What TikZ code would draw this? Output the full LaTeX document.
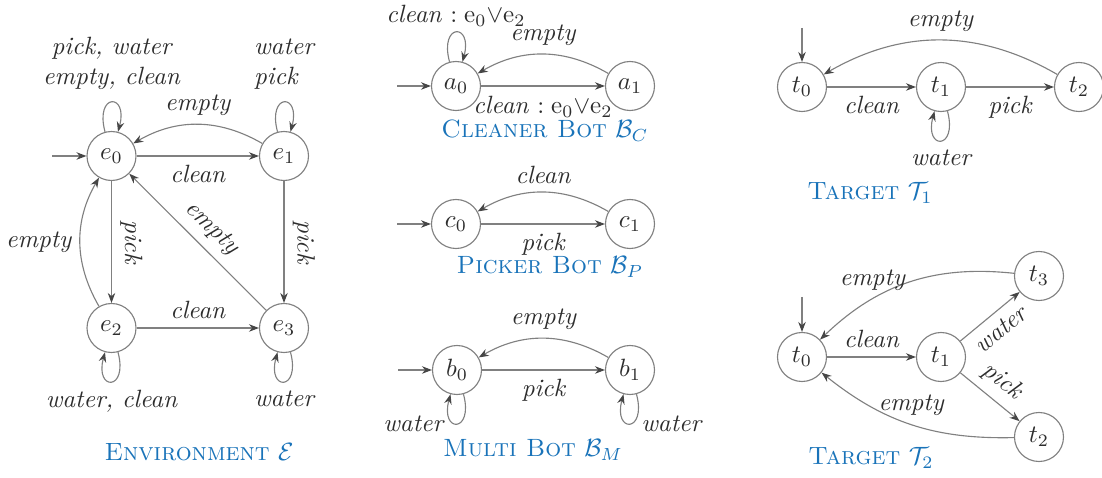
\documentclass[tikz,border=0pt]{standalone}
\usetikzlibrary{arrows.meta}
\definecolor{titleblue}{RGB}{25,115,185}
\definecolor{linegray}{RGB}{128,128,128}
\definecolor{textgray}{RGB}{45,45,45}
\definecolor{tipgray}{RGB}{70,70,70}
\begin{document}
\begin{tikzpicture}[x=0.4pt,y=-0.4pt,
  state/.style={circle,draw=linegray,line width=0.45pt,minimum size=19.6pt,inner sep=0pt,text=textgray},
  tr/.style={draw=linegray,line width=0.45pt,-{Stealth[length=4pt,width=3pt,color=tipgray]}},
  lbl/.style={text=textgray,font=\itshape},
  title/.style={text=titleblue}]
\useasboundingbox (0,0) rectangle (1102,478);

% ---------- Environment E ----------
\node[state] (e0) at (111.5,156) {$e_0$};
\node[state] (e1) at (284,156) {$e_1$};
\node[state] (e2) at (111.5,328) {$e_2$};
\node[state] (e3) at (284,328) {$e_3$};
\coordinate (e0in) at (52,156);
\draw[tr] (e0in) -- (e0);
\draw[tr] (e0) to[loop above] node[lbl,above=1.5pt,align=center] {pick, water\\empty, clean} (e0);
\draw[tr] (e1) to[loop above] node[lbl,above=1.5pt,align=left] {water\\pick} (e1);
\draw[tr] (e0) -- node[lbl,below] {clean} (e1);
\draw[tr] (e1) to[bend right=30] node[lbl,above] {empty} (e0);
\draw[tr] (e0) -- node[lbl,sloped,above] {pick} (e2);
\draw[tr] (e1) -- node[lbl,sloped,above] {pick} (e3);
\draw[tr] (e3) -- node[lbl,sloped,above] {empty} (e0);
\draw[tr] (e2) to[bend left=30] node[lbl,left] {empty} (e0);
\draw[tr] (e2) -- node[lbl,above] {clean} (e3);
\draw[tr] (e2) to[loop below] node[lbl,below] {water, clean} (e2);
\draw[tr] (e3) to[loop below] node[lbl,below] {water} (e3);
\node[title] (envt) at (199,452) {\textsc{Environment} $\mathcal{E}$};

% ---------- Cleaner Bot ----------
\node[state] (a0) at (456,86) {$a_0$};
\node[state] (a1) at (630,86) {$a_1$};
\coordinate (a0in) at (397,86);
\draw[tr] (a0in) -- (a0);
\draw[tr] (a0) to[loop above] node[text=textgray,above=-1pt] {$\mathit{clean}:\mathrm{e}_0{\vee}\mathrm{e}_2$} (a0);
\draw[tr] (a0) -- node[text=textgray,below=0.5pt] {$\mathit{clean}:\mathrm{e}_0{\vee}\mathrm{e}_2$} (a1);
\draw[tr] (a1) to[bend right=30] node[lbl,above] {empty} (a0);
\node[title] (cbt) at (545,131) {\textsc{Cleaner Bot} $\mathcal{B}_C$};

% ---------- Picker Bot ----------
\node[state] (c0) at (456,224) {$c_0$};
\node[state] (c1) at (630,224) {$c_1$};
\coordinate (c0in) at (397,224);
\draw[tr] (c0in) -- (c0);
\draw[tr] (c0) -- node[lbl,below] {pick} (c1);
\draw[tr] (c1) to[bend right=30] node[lbl,above] {clean} (c0);
\node[title] (pbt) at (550,267) {\textsc{Picker Bot} $\mathcal{B}_P$};

% ---------- Multi Bot ----------
\node[state] (b0) at (457,370) {$b_0$};
\node[state] (b1) at (630,370) {$b_1$};
\coordinate (b0in) at (398,370);
\draw[tr] (b0in) -- (b0);
\draw[tr] (b0) -- node[lbl,below] {pick} (b1);
\draw[tr] (b1) to[bend right=30] node[lbl,above] {empty} (b0);
\draw[tr] (b0) to[loop below] node[lbl,left=2pt] {water} (b0);
\draw[tr] (b1) to[loop below] node[lbl,right=1pt] {water} (b1);
\node[title] (mbt) at (533,450) {\textsc{Multi Bot} $\mathcal{B}_M$};

% ---------- Target T1 ----------
\node[state] (p0) at (802,87) {$t_0$};
\node[state] (p1) at (941,87) {$t_1$};
\node[state] (p2) at (1079,87) {$t_2$};
\coordinate (p0in) at (802,28);
\draw[tr] (p0in) -- (p0);
\draw[tr] (p0) -- node[lbl,below] {clean} (p1);
\draw[tr] (p1) -- node[lbl,below] {pick} (p2);
\draw[tr] (p2) to[bend right=30] node[lbl,above] {empty} (p0);
\draw[tr] (p1) to[loop below] node[lbl,below] {water} (p1);
\node[title] (t1t) at (870,193) {\textsc{Target} $\mathcal{T}_1$};

% ---------- Target T2 ----------
\node[state] (q0) at (802,357) {$t_0$};
\node[state] (q1) at (941,357) {$t_1$};
\node[state] (q3) at (1039,276) {$t_3$};
\node[state] (q2) at (1039,437) {$t_2$};
\coordinate (q0in) at (802,297);
\draw[tr] (q0in) -- (q0);
\draw[tr] (q0) -- node[lbl,above] {clean} (q1);
\draw[tr] (q1) -- node[lbl,sloped,below] {water} (q3);
\draw[tr] (q1) -- node[lbl,sloped,above] {pick} (q2);
\draw[tr] (q3) to[bend right=25] node[lbl,above,pos=0.7] {empty} (q0);
\draw[tr] (q2) to[bend left=20] node[lbl,above=0pt,pos=0.5] {empty} (q0);
\node[title] (t2t) at (871,458) {\textsc{Target} $\mathcal{T}_2$};
\end{tikzpicture}
\end{document}
